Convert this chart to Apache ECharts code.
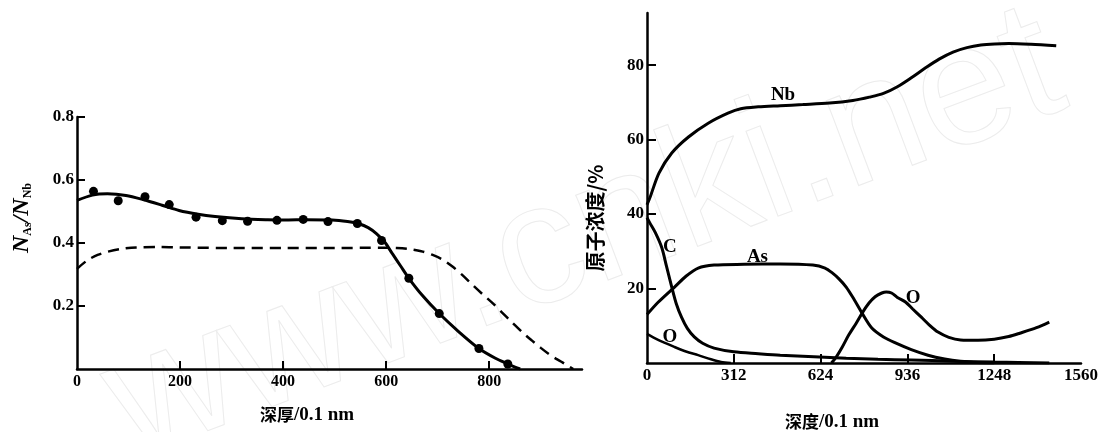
<!DOCTYPE html>
<html><head><meta charset="utf-8">
<script src="https://cdn.jsdelivr.net/npm/echarts@6/dist/echarts.min.js"></script>
<style>html,body{margin:0;padding:0;background:#fff}#c{width:1101px;height:432px}</style>
</head><body><div id="c"></div>
<script>
// ---- Left panel: N_As/N_Nb vs depth (0.1 nm)
const leftXLabels = [0, 200, 400, 600, 800];
const leftXTicks = [200, 400, 600, 800];
const leftYLabels = [0.2, 0.4, 0.6, 0.8];
const leftSolid = [[0,0.535],[30,0.552],[59,0.556],[95,0.551],[128,0.538],[165,0.52],[198,0.503],[235,0.491],[268,0.484],[320,0.477],[370,0.474],[407,0.473],[445,0.474],[495,0.473],[525,0.468],[547,0.461],[565,0.449],[581,0.43],[597,0.403],[612,0.366],[628,0.327],[644,0.288],[670,0.234],[703,0.176],[741,0.118],[780,0.065],[812,0.034],[836,0.016],[850,0.006],[860,0]];
const leftDots = [[32,0.564],[80,0.534],[132,0.547],[179,0.522],[231,0.482],[282,0.471],[331,0.469],[388,0.472],[439,0.475],[487,0.468],[544,0.462],[591,0.408],[644,0.288],[703,0.176],[780,0.065],[836,0.016]];
const leftDashed = [[0,0.318],[20,0.345],[40,0.362],[59,0.372],[85,0.381],[115,0.386],[160,0.387],[198,0.386],[300,0.384],[407,0.384],[500,0.384],[592,0.385],[620,0.384],[644,0.381],[668,0.374],[689,0.363],[710,0.347],[728,0.326],[748,0.298],[767,0.268],[786,0.239],[806,0.21],[825,0.179],[845,0.147],[864,0.117],[883,0.09],[900,0.067],[916,0.047],[930,0.032],[942,0.021],[952,0.011],[963,0]];

// ---- Right panel: atomic concentration (%) vs depth (0.1 nm)
const rightXLabels = [0, 312, 624, 936, 1248, 1560];
const rightXTicks = [312, 624, 936, 1248];
const rightYLabels = [20, 40, 60, 80];
const rightNb = [[0,42.5],[11,44.5],[43,51],[89,56.4],[149,60.7],[220,64.4],[291,67.1],[337,68.3],[400,68.8],[479,69.1],[560,69.4],[656,69.8],[740,70.5],[800,71.4],[850,72.4],[900,74.2],[950,76.6],[1000,79.2],[1050,81.6],[1100,83.5],[1150,84.7],[1200,85.4],[1250,85.7],[1300,85.8],[1380,85.6],[1471,85.2]];
const rightAs = [[0,13],[40,16.3],[99,20.4],[140,23.3],[184,25.5],[241,26.3],[350,26.5],[479,26.6],[596,26.3],[640,25.5],[666,24.2],[690,22.6],[716,20.4],[745,17],[773,13.4],[808,9.4],[850,7],[893,5.4],[950,3.6],[1010,2.1],[1070,1.1],[1127,0.5],[1190,0.15],[1248,0]];
const rightC = [[0,39],[11,37.5],[30,35],[53,31],[70,26],[89,20.4],[105,16],[124,12.3],[145,9.3],[170,7],[200,5.3],[241,4],[312,3],[400,2.5],[479,2.1],[600,1.7],[716,1.3],[830,1],[950,0.8],[1100,0.5],[1250,0.25],[1446,0]];
const rightOSurface = [[0,7.8],[40,6.2],[99,4.3],[140,3.1],[184,2.1],[230,1],[266,0.3],[301,0]];
const rightOInterface = [[663,0],[680,1.6],[702,4.3],[725,7.5],[752,10.7],[775,13.6],[798,16.1],[820,17.8],[844,18.8],[860,19.1],[879,18.8],[900,17.6],[929,16.4],[955,14.5],[986,12.3],[1015,10.2],[1046,8.3],[1085,6.9],[1127,6.2],[1190,6.1],[1248,6.4],[1300,7.1],[1340,8],[1400,9.5],[1446,11]];
const rightLabels = [[489,72,'Nb'],[397,28.5,'As'],[82,31,'C'],[82,7,'O'],[957,17.5,'O']];

const chart = echarts.init(document.getElementById('c'), null, {renderer: 'canvas'});
const FONT = '"Liberation Serif", "DejaVu Serif", serif';
const CJK = '"Noto Sans CJK SC", sans-serif';
const INK = '#000';
const axisLine = {show: true, lineStyle: {color: INK, width: 2.5}};
const tickStyle = {color: INK, width: 2};
const lblStyle = {fontFamily: FONT, fontWeight: 'bold', fontSize: 17, color: INK, formatter: v => String(v)};

function line(data, xi, extra) {
  return Object.assign({
    type: 'line', xAxisIndex: xi, yAxisIndex: xi, data: data,
    smooth: 0.3, showSymbol: false, symbol: 'none',
    lineStyle: {color: INK, width: 3}, z: 3
  }, extra || {});
}

const option = {
  animation: false,
  backgroundColor: '#fff',
  grid: [
    {left: 77, top: 117, width: 505, height: 252},
    {left: 647, top: 13, width: 440, height: 350}
  ],
  xAxis: [
    {gridIndex: 0, type: 'value', min: 0, max: 980, axisLine: axisLine, splitLine: {show: false},
     axisTick: {show: true, inside: true, length: 8, lineStyle: tickStyle, customValues: leftXTicks},
     axisLabel: Object.assign({}, lblStyle, {customValues: leftXLabels, margin: 5, fontSize: 16})},
    {gridIndex: 1, type: 'value', min: 0, max: 1560, axisLine: axisLine, splitLine: {show: false},
     axisTick: {show: true, inside: true, length: 9, lineStyle: tickStyle, customValues: rightXTicks},
     axisLabel: Object.assign({}, lblStyle, {customValues: rightXLabels, margin: 4})}
  ],
  yAxis: [
    {gridIndex: 0, type: 'value', min: 0, max: 0.8, axisLine: axisLine, splitLine: {show: false},
     axisTick: {show: true, inside: true, length: 8, lineStyle: tickStyle, customValues: leftYLabels},
     axisLabel: Object.assign({}, lblStyle, {customValues: leftYLabels, margin: 3, formatter: v => v.toFixed(1)})},
    {gridIndex: 1, type: 'value', min: 0, max: 94, axisLine: axisLine, splitLine: {show: false},
     axisTick: {show: true, inside: true, length: 9, lineStyle: tickStyle, customValues: rightYLabels},
     axisLabel: Object.assign({}, lblStyle, {customValues: rightYLabels, margin: 3})}
  ],
  series: [
    line(leftSolid, 0),
    line(leftDashed, 0, {lineStyle: {color: INK, width: 2.5, type: [11, 7]}}),
    {type: 'scatter', xAxisIndex: 0, yAxisIndex: 0, data: leftDots, symbol: 'circle', symbolSize: 9,
     itemStyle: {color: INK, opacity: 1}, z: 4},
    line(rightNb, 1),
    line(rightAs, 1),
    line(rightC, 1),
    line(rightOSurface, 1, {lineStyle: {color: INK, width: 2.5}}),
    line(rightOInterface, 1),
    {type: 'scatter', xAxisIndex: 1, yAxisIndex: 1, data: rightLabels, symbolSize: 0, z: 5,
     itemStyle: {opacity: 1, color: INK},
     label: {show: true, position: 'inside', formatter: p => p.data[2],
             fontFamily: FONT, fontWeight: 'bold', fontSize: 19, color: INK}}
  ],
  graphic: [
    {type: 'text', x: 585, y: 238, rotation: 0.36, z: -10, silent: true,
     style: {text: 'www.cnki.net', font: '172px "Liberation Sans", sans-serif',
             fill: 'rgba(0,0,0,0)', stroke: '#ececec', lineWidth: 1,
             align: 'center', verticalAlign: 'middle', textAlign: 'center', textVerticalAlign: 'middle'}},
    {type: 'text', x: 307, y: 415, z: 10,
     style: {text: '{a|深厚}{b|/0.1 nm}', align: 'center', verticalAlign: 'middle', textAlign: 'center', textVerticalAlign: 'middle',
             rich: {a: {fontFamily: CJK, fontWeight: 'bold', fontSize: 17, fill: INK, color: INK},
                    b: {fontFamily: FONT, fontWeight: 'bold', fontSize: 19, fill: INK, color: INK}}}},
    {type: 'text', x: 832, y: 422, z: 10,
     style: {text: '{a|深度}{b|/0.1 nm}', align: 'center', verticalAlign: 'middle', textAlign: 'center', textVerticalAlign: 'middle',
             rich: {a: {fontFamily: CJK, fontWeight: 'bold', fontSize: 17, fill: INK, color: INK},
                    b: {fontFamily: FONT, fontWeight: 'bold', fontSize: 19, fill: INK, color: INK}}}},
    {type: 'text', x: 22, y: 218, rotation: Math.PI / 2, z: 10,
     style: {text: '{n|N}{s|As}{n|/N}{s|Nb}', align: 'center', verticalAlign: 'middle', textAlign: 'center', textVerticalAlign: 'middle',
             rich: {n: {fontFamily: FONT, fontStyle: 'italic', fontWeight: 'bold', fontSize: 24, fill: INK, color: INK, verticalAlign: 'bottom'},
                    s: {fontFamily: FONT, fontWeight: 'bold', fontSize: 12, fill: INK, color: INK, verticalAlign: 'bottom'}}}},
    {type: 'text', x: 595, y: 218, rotation: Math.PI / 2, z: 10,
     style: {text: '原子浓度/%', align: 'center', verticalAlign: 'middle', textAlign: 'center', textVerticalAlign: 'middle',
             font: 'bold 20px "Noto Sans CJK SC", sans-serif', fill: INK}}
  ]
};
chart.setOption(option);
</script>
</body></html>
